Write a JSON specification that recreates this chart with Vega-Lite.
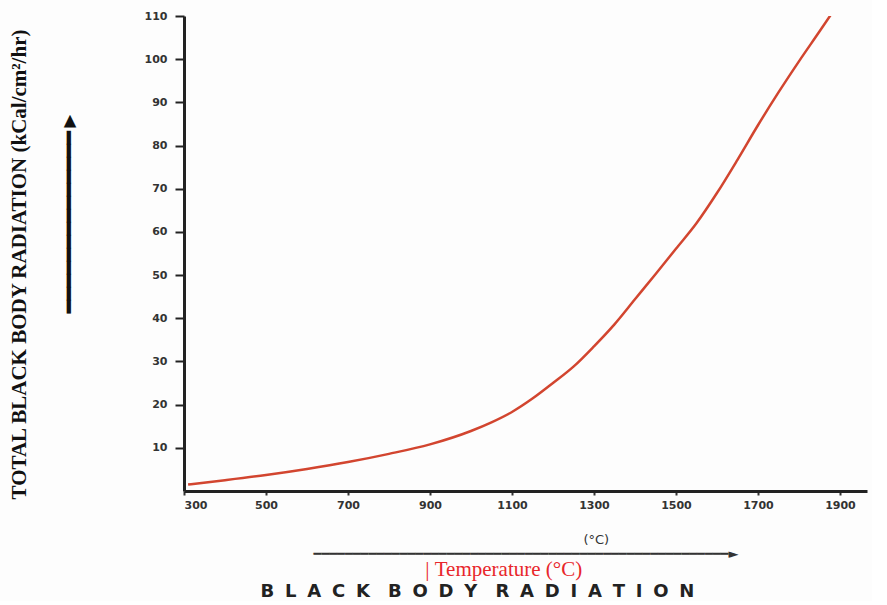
{
  "$schema": "https://vega.github.io/schema/vega-lite/v6.json",
  "width": 683,
  "height": 475,
  "padding": {"left": 8, "top": 7, "right": 5, "bottom": 0},
  "background": "#fdfdfd",
  "config": {"view": {"stroke": null}},
  "title": {
    "text": "\u200b\u00a0\u00a0\u00a0\u00a0\u00a0\u00a0\u00a0\u00a0\u00a0\u00a0|\u00a0Temperature (°C)",
    "subtitle": "B\u2002\u200aL\u2002\u200aA\u2002\u200aC\u2002\u200aK\u2002\u2002B\u2002\u200aO\u2002\u200aD\u2002\u200aY\u2002\u2002R\u2002\u200aA\u2002\u200aD\u2002\u200aI\u2002\u200aA\u2002\u200aT\u2002\u200aI\u2002\u200aO\u2002\u200aN",
    "orient": "bottom",
    "anchor": "middle",
    "frame": "group",
    "dx": -48,
    "offset": -1,
    "font": "Liberation Serif",
    "fontSize": 21,
    "fontWeight": "normal",
    "color": "#e8262b",
    "subtitleFont": "DejaVu Sans",
    "subtitleFontSize": 18,
    "subtitleFontWeight": "bold",
    "subtitleColor": "#222222",
    "subtitlePadding": 3
  },
  "data": {
    "values": [
      {"temp": 310, "rad": 1.5},
      {"temp": 400, "rad": 2.5},
      {"temp": 500, "rad": 3.7},
      {"temp": 600, "rad": 5.1},
      {"temp": 700, "rad": 6.7},
      {"temp": 800, "rad": 8.6},
      {"temp": 900, "rad": 10.8},
      {"temp": 1000, "rad": 13.9},
      {"temp": 1050, "rad": 15.9},
      {"temp": 1100, "rad": 18.3},
      {"temp": 1150, "rad": 21.4},
      {"temp": 1200, "rad": 25},
      {"temp": 1250, "rad": 28.8},
      {"temp": 1300, "rad": 33.5},
      {"temp": 1350, "rad": 38.6},
      {"temp": 1400, "rad": 44.4},
      {"temp": 1450, "rad": 50.2},
      {"temp": 1500, "rad": 56.1},
      {"temp": 1550, "rad": 62},
      {"temp": 1600, "rad": 69},
      {"temp": 1650, "rad": 76.7},
      {"temp": 1700, "rad": 84.7},
      {"temp": 1750, "rad": 92.3},
      {"temp": 1800, "rad": 99.5},
      {"temp": 1850, "rad": 106.4},
      {"temp": 1890, "rad": 112}
    ]
  },
  "mark": {"type": "line", "color": "#d2452f", "strokeWidth": 2.5, "interpolate": "monotone", "clip": true},
  "encoding": {
    "x": {
      "field": "temp",
      "type": "quantitative",
      "scale": {"domain": [300, 1966], "nice": false, "zero": false},
      "axis": {
        "values": [300, 500, 700, 900, 1100, 1300, 1500, 1700, 1900],
        "format": "d",
        "grid": false,
        "labelFont": "DejaVu Sans",
        "labelFontWeight": "bold",
        "labelFontSize": 11,
        "labelColor": "#333333",
        "labelPadding": 4,
        "domainColor": "#222222",
        "domainWidth": 3,
        "tickColor": "#333333",
        "tickWidth": 2,
        "tickSize": 4,
        "title": ["\u200b\u00a0\u00a0\u00a0\u00a0\u00a0\u00a0\u00a0\u00a0\u00a0\u00a0\u00a0\u00a0\u00a0\u00a0\u00a0\u00a0\u00a0\u00a0\u00a0\u00a0\u00a0\u00a0\u00a0\u00a0\u00a0\u00a0\u00a0\u00a0\u00a0\u00a0\u00a0\u00a0\u00a0\u00a0(°C)", "━━━━━━━━━━━━━━━━━━━━━━━━━━━━━━━━━━━━━━━━━━━━━━━━━━━━━►"],
        "titleFont": "DejaVu Sans",
        "titleFontSize": 13,
        "titleFontWeight": "normal",
        "titleColor": "#333333",
        "titleLineHeight": 14,
        "titlePadding": 23
      }
    },
    "y": {
      "field": "rad",
      "type": "quantitative",
      "scale": {"domain": [0, 110], "nice": false},
      "axis": {
        "values": [10, 20, 30, 40, 50, 60, 70, 80, 90, 100, 110],
        "grid": false,
        "labelFont": "DejaVu Sans",
        "labelFontWeight": "bold",
        "labelFontSize": 11,
        "labelColor": "#333333",
        "labelPadding": 8,
        "domainColor": "#222222",
        "domainWidth": 3,
        "tickColor": "#222222",
        "tickWidth": 2,
        "tickSize": 9,
        "title": ["TOTAL BLACK BODY RADIATION (kCal/cm²/hr)\u00a0\u00a0\u00a0\u00a0\u200b", "\u200b\u00a0\u00a0\u00a0\u00a0\u00a0\u00a0\u00a0\u00a0\u00a0\u00a0\u00a0\u00a0\u00a0\u00a0\u00a0\u00a0━━━━━━━━━━━━━━►"],
        "titleFont": "Liberation Serif",
        "titleFontSize": 21,
        "titleFontWeight": "bold",
        "titleColor": "#111111",
        "titleLineHeight": 50,
        "titlePadding": 65
      }
    }
  }
}
